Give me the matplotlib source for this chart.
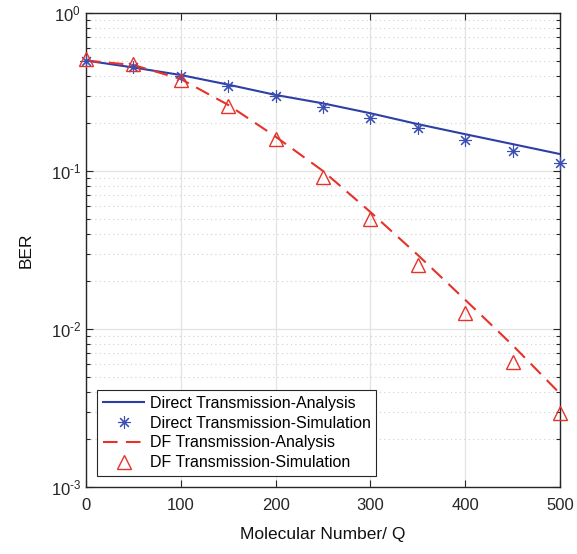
import matplotlib
matplotlib.use("Agg")
import matplotlib.pyplot as plt
from matplotlib.ticker import LogLocator, NullFormatter, MultipleLocator, FuncFormatter
import math

plt.rcParams['font.family'] = ['Liberation Sans', 'DejaVu Sans']
plt.rcParams['mathtext.fontset'] = 'custom'
plt.rcParams['mathtext.rm'] = 'Liberation Sans'
plt.rcParams['mathtext.it'] = 'Liberation Sans'
plt.rcParams['mathtext.default'] = 'regular'
plt.rcParams['axes.unicode_minus'] = False

Q = [0, 50, 100, 150, 200, 250, 300, 350, 400, 450, 500]
direct_analysis = [0.50, 0.452, 0.405, 0.352, 0.303, 0.268, 0.232, 0.198, 0.171, 0.148, 0.128]
direct_sim = [0.50, 0.455, 0.398, 0.345, 0.297, 0.254, 0.217, 0.186, 0.157, 0.134, 0.113]
df_analysis = [0.50, 0.469, 0.382, 0.262, 0.165, 0.100, 0.055, 0.0294, 0.0153, 0.0079, 0.0039]
df_sim = [0.51, 0.473, 0.375, 0.258, 0.160, 0.092, 0.0494, 0.0254, 0.0127, 0.0062, 0.00295]

labels = ['Direct Transmission-Analysis', 'Direct Transmission-Simulation',
          'DF Transmission-Analysis', 'DF Transmission-Simulation']

blue = '#2d3fa6'
blue_m = '#3b4fb3'
red = '#e6322a'

fig = plt.figure(figsize=(5.77, 5.54), dpi=100)
ax = fig.add_axes([86/577, 1-487/554, (560-86)/577, (487-13)/554])

ax.plot(Q, direct_analysis, color=blue, lw=1.5, label=labels[0], zorder=3)
ax.plot(Q, direct_sim, linestyle='none', marker=(8, 2, 0), ms=9, mew=0.8,
        color=blue_m, label=labels[1], zorder=4, clip_on=False)
ax.plot(Q, df_analysis, color=red, lw=1.5, linestyle=(0, (7, 4)), label=labels[2], zorder=3)
ax.plot(Q, df_sim, linestyle='none', marker='^', ms=10, mew=1.0, mfc='none',
        mec=red, label=labels[3], zorder=4, clip_on=False)

ax.set_yscale('log')
ax.set_xlim(0, 500)
ax.set_ylim(1e-3, 1)
ax.xaxis.set_major_locator(MultipleLocator(100))
ax.yaxis.set_major_locator(LogLocator(base=10, numticks=10))
ax.yaxis.set_minor_locator(LogLocator(base=10, subs=range(2, 10), numticks=10))
ax.yaxis.set_minor_formatter(NullFormatter())


def fmt(v, pos):
    e = int(round(math.log10(v)))
    s = str(e).replace('-', '\u2010')
    return '10$^{' + s + '}$'


ax.yaxis.set_major_formatter(FuncFormatter(fmt))

ax.grid(True, which='major', color='#e3e3e3', lw=0.9, linestyle='-')
ax.grid(True, which='minor', axis='y', color='#cfcfcf', lw=0.8, linestyle=(0, (1, 3)))
ax.set_axisbelow(True)

ax.tick_params(which='both', direction='in', top=True, right=True, labelsize=12, colors='#262626')
ax.tick_params(which='major', length=5, width=0.8)
ax.tick_params(which='minor', length=3, width=0.8)
ax.tick_params(axis='x', pad=8)
for s in ax.spines.values():
    s.set_color('#262626')
    s.set_linewidth(1.0)

ax.set_xlabel('Molecular Number/ Q', fontsize=12.5, labelpad=10, color='#111111')
ax.set_ylabel('BER', fontsize=12.5, labelpad=12, color='#111111')

leg = ax.legend(loc='lower left', fontsize=11.5, frameon=True, fancybox=False,
                edgecolor='#262626', framealpha=1, handlelength=2.6,
                borderaxespad=0.7, labelspacing=0.3, handletextpad=0.35,
                borderpad=0.35)
leg.get_frame().set_linewidth(0.8)

fig.savefig('out.png', dpi=100)
